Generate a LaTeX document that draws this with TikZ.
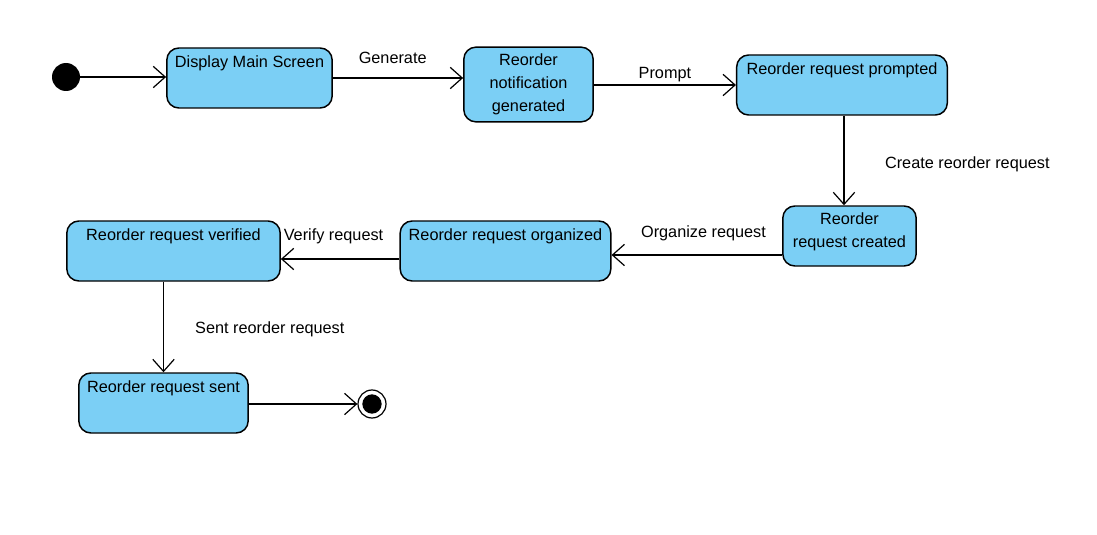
\documentclass[tikz,border=0pt]{standalone}
\usepackage{fontspec}
\setmainfont{Liberation Sans}
\usetikzlibrary{arrows.meta}
\definecolor{statefill}{HTML}{7BCFF5}

\begin{document}
\begin{tikzpicture}[x=0.75pt, y=-0.75pt,
    every node/.style={font=\fontsize{12.2}{17}\selectfont},
    state/.style={draw, line width=1.1pt, rounded corners=9pt, fill=statefill, inner sep=0pt},
    title/.style={anchor=north, align=center, inner sep=0pt},
    flow/.style={line width=0.9pt, -{Straight Barb[length=9pt, width=16pt, line width=0.9pt]}}]
    \useasboundingbox (0,0) rectangle (1097,535);

    \node [circle, fill=black, minimum size=21pt, inner sep=0pt] (start) at (66,77) {};
    \node [state, minimum width=124pt, minimum height=45pt] (dms) at (249.5,78) {};
    \node [title] at ([yshift=-6.5pt]dms.north) {Display Main Screen};
    \node [state, minimum width=97pt, minimum height=56pt] (rng) at (528.5,84.5) {};
    \node [title] at ([yshift=-5.5pt]rng.north) {Reorder\\notification\\generated};
    \node [state, minimum width=158pt, minimum height=45pt] (rrp) at (842,85) {};
    \node [title] at ([yshift=-6.5pt]rrp.north) {Reorder request prompted};
    \node [state, minimum width=100pt, minimum height=45pt] (rrc) at (849.5,236) {};
    \node [title] at ([yshift=-5.5pt]rrc.north) {Reorder\\request created};
    \node [state, minimum width=158pt, minimum height=45pt] (rro) at (505.5,251) {};
    \node [title] at ([yshift=-6.5pt]rro.north) {Reorder request organized};
    \node [state, minimum width=160pt, minimum height=45pt] (rrv) at (173.5,251) {};
    \node [title] at ([yshift=-6.5pt]rrv.north) {Reorder request verified};
    \node [state, minimum width=127pt, minimum height=45pt] (rrs) at (163.5,403) {};
    \node [title] at ([yshift=-6.5pt]rrs.north) {Reorder request sent};
    \node [circle, draw, line width=0.9pt, minimum size=21pt, inner sep=0pt] (stop) at (372,404) {};
    \node [circle, fill=black, minimum size=14.5pt, inner sep=0pt] at (stop) {};

    \draw [flow] (start) -- (start -| dms.west);
    \draw [flow] (dms.east) -- (dms.east -| rng.west)
      node [midway, above=7pt, xshift=-4pt] {Generate};
    \draw [flow] (rng.east |- rrp.west) -- (rrp.west)
      node [midway, above=-1.5pt] {Prompt};
    \draw [flow] ([xshift=1.5pt]rrp.south) -- ([xshift=1.5pt]rrp.south |- rrc.north)
      node [midway, right=27pt, yshift=-3pt] {Create reorder request};
    \draw [flow] ([yshift=-3pt]rrc.west |- rro.east) -- ([yshift=-3pt]rro.east)
      node [midway, above=6.5pt, xshift=5pt] {Organize request};
    \draw [flow] ([yshift=-6pt]rro.west) -- ([yshift=-6pt]rrv.east)
      node [midway, above=7.25pt, xshift=-5pt] {Verify request};
    \draw [flow] (rrs.north |- rrv.south) -- (rrs.north)
      node [midway, right=20pt, yshift=-1.5pt] {Sent reorder request};
    \draw [flow] (rrs.east |- stop) -- (stop);
  \end{tikzpicture}
\end{document}
